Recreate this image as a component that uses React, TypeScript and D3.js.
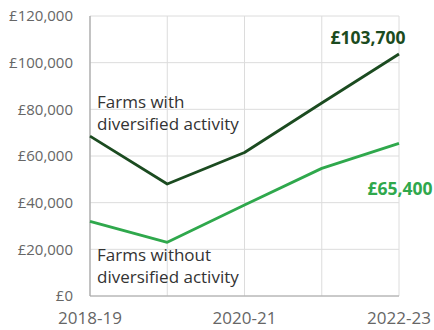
import React from "react";
import * as d3 from "d3";

const years = ["2018-19", "2019-20", "2020-21", "2021-22", "2022-23"];
const withDiv = [68500, 48000, 61500, 82700, 103700];
const withoutDiv = [32000, 23000, 39000, 54700, 65400];
const yTicks = [0, 20000, 40000, 60000, 80000, 100000, 120000];
const xLabelYears = ["2018-19", "2020-21", "2022-23"];

const DARK = "#1b4b20";
const LIGHT = "#2fa84c";
const FONT = "'Open Sans', 'Noto Sans', sans-serif";

export default function App() {
  const W = 434, H = 330;
  const left = 90, right = 399, top = 16, bottom = 296;
  const x = d3.scalePoint<string>().domain(years).range([left, right]);
  const y = d3.scaleLinear().domain([0, 120000]).range([bottom, top]);
  const line = d3
    .line<number>()
    .x((_, i) => x(years[i]) as number)
    .y((d) => y(d));
  const fmt = (v: number) => "£" + d3.format(",")(v);
  const last = years.length - 1;
  return (
    <svg width={W} height={H} style={{ position: "absolute", left: 0, top: 0, fontFamily: FONT }}>
      <rect width={W} height={H} fill="#fff" />
      {yTicks.map((t) => (
        <line key={t} x1={left} x2={right} y1={y(t)} y2={y(t)} stroke="#dcdcdc" strokeWidth={1} />
      ))}
      {years.map((yr) => (
        <line key={yr} x1={x(yr)} x2={x(yr)} y1={top} y2={bottom} stroke="#dcdcdc" strokeWidth={1} />
      ))}
      <line x1={left} x2={left} y1={top} y2={bottom} stroke="#a6a6a6" strokeWidth={1.2} />
      <line x1={left} x2={right} y1={bottom} y2={bottom} stroke="#a6a6a6" strokeWidth={1.2} />
      {yTicks.map((t) => (
        <text key={t} x={73} y={y(t)} dy="0.35em" textAnchor="end" fontSize={15} fill="#666">
          {fmt(t)}
        </text>
      ))}
      {xLabelYears.map((yr) => (
        <text key={yr} x={x(yr)} y={318.5} dy="0.35em" textAnchor="middle" fontSize={17} fill="#666">
          {yr}
        </text>
      ))}
      <path d={line(withDiv) || ""} fill="none" stroke={DARK} strokeWidth={2.8} strokeLinejoin="round" />
      <path d={line(withoutDiv) || ""} fill="none" stroke={LIGHT} strokeWidth={2.8} strokeLinejoin="round" />
      <text x={97} y={108} fontSize={17} fill="#333">Farms with</text>
      <text x={97} y={130} fontSize={17} fill="#333">diversified activity</text>
      <text x={97} y={261} fontSize={17} fill="#333">Farms without</text>
      <text x={97} y={283} fontSize={17} fill="#333">diversified activity</text>
      <text x={368} y={44} textAnchor="middle" fontSize={17.5} fontWeight="bold" fill={DARK}>
        {fmt(withDiv[last])}
      </text>
      <text x={400} y={195} textAnchor="middle" fontSize={17.5} fontWeight="bold" fill={LIGHT}>
        {fmt(withoutDiv[last])}
      </text>
    </svg>
  );
}
